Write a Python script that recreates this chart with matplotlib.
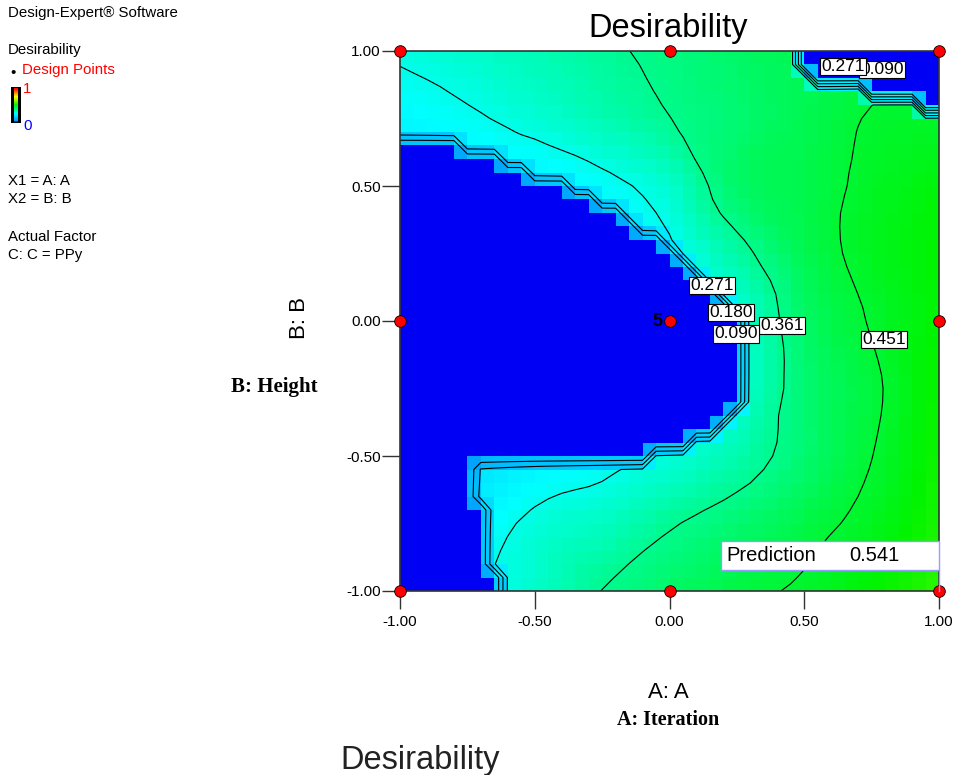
#!/usr/bin/env python3

import numpy as np
import matplotlib
matplotlib.use('Agg')
import matplotlib.pyplot as plt
import matplotlib.tri as mtri
from matplotlib.path import Path
from matplotlib.patches import Rectangle
from matplotlib.colors import LinearSegmentedColormap

# Coded factor levels of the coarse grid
grid_a = [-1.0, -0.75, -0.5, -0.25, 0.0, 0.25, 0.5, 0.75, 1.0]
grid_b = [-1.0, -0.75, -0.5, -0.25, 0.0, 0.25, 0.5, 0.75, 1.0]

# Desirability (outside the zero zones), rows = B from -1 to 1, cols = A
desir = [
    [0.10, 0.245, 0.30, 0.362, 0.40, 0.435, 0.46, 0.50, 0.541],
    [0.10, 0.22, 0.285, 0.31, 0.355, 0.39, 0.43, 0.47, 0.525],
    [0.13, 0.17, 0.22, 0.25, 0.285, 0.33, 0.39, 0.45, 0.515],
    [0.14, 0.16, 0.19, 0.22, 0.26, 0.29, 0.39, 0.44, 0.51],
    [0.15, 0.17, 0.19, 0.22, 0.255, 0.29, 0.40, 0.455, 0.50],
    [0.18, 0.19, 0.205, 0.23, 0.262, 0.34, 0.42, 0.47, 0.50],
    [0.20, 0.21, 0.225, 0.255, 0.30, 0.40, 0.425, 0.465, 0.49],
    [0.24, 0.262, 0.29, 0.325, 0.36, 0.39, 0.42, 0.455, 0.462],
    [0.28, 0.30, 0.325, 0.35, 0.375, 0.40, 0.42, 0.43, 0.44],
]

# Zones where desirability = 0 (blue), outline (A, B)
zero_main = [(-1.0, 0.65), (-0.80, 0.65), (-0.80, 0.60), (-0.65, 0.60), (-0.65, 0.55),
             (-0.55, 0.55), (-0.55, 0.50), (-0.40, 0.50), (-0.40, 0.45), (-0.30, 0.45),
             (-0.30, 0.40), (-0.20, 0.40), (-0.20, 0.35), (-0.15, 0.35), (-0.15, 0.30),
             (-0.05, 0.30), (-0.05, 0.25), (0.0, 0.25), (0.0, 0.20), (0.05, 0.20),
             (0.05, 0.15), (0.10, 0.15), (0.10, 0.10), (0.15, 0.10), (0.15, 0.05),
             (0.20, 0.05), (0.20, 0.0), (0.25, 0.0), (0.25, -0.30), (0.20, -0.30),
             (0.20, -0.35), (0.15, -0.35), (0.15, -0.40), (0.05, -0.40), (0.05, -0.45),
             (-0.10, -0.45), (-0.10, -0.50), (-0.75, -0.50), (-0.75, -0.70), (-0.70, -0.70),
             (-0.70, -0.95), (-0.65, -0.95), (-0.65, -1.0), (-1.0, -1.0)]
zero_corner = [(0.50, 1.0), (1.0, 1.0), (1.0, 0.80), (0.95, 0.80), (0.95, 0.85),
               (0.75, 0.85), (0.75, 0.90), (0.55, 0.90), (0.55, 0.95), (0.50, 0.95)]

levels = [0.090, 0.180, 0.271, 0.361, 0.451]

# Design points (coded), center point replicated 5 times
design_a = [-1, 0, 1, -1, 0, 1, -1, 0, 1]
design_b = [1, 1, 1, 0, 0, 0, -1, -1, -1]
center_reps = 5
prediction = 0.541

tick_vals = [-1.0, -0.5, 0.0, 0.5, 1.0]

plt.rcParams['font.family'] = ['Liberation Sans', 'DejaVu Sans']

W, H = 954, 775
fig = plt.figure(figsize=(W / 100, H / 100), dpi=100)


def fx(px):
    return px / W


def fy(py):
    return 1 - py / H


ax = fig.add_axes([fx(400), fy(591), 539 / W, 540 / H])

# Design-Expert style colour scale: blue -> cyan -> green -> yellow -> red
cmap = LinearSegmentedColormap.from_list('dx', [
    (0.0, '#0000f4'), (0.002, '#0090ff'), (0.25, '#00ffff'),
    (0.5, '#00f400'), (0.75, '#ffff00'), (1.0, '#ff0000')])

# Fine node grid (0.05 step), surface evaluated by matplotlib's tri interpolator
nodes = np.linspace(-1, 1, 41)
AA, BB = np.meshgrid(nodes, nodes)
A0, B0 = np.meshgrid(grid_a, grid_b)
tri = mtri.Triangulation(A0.ravel(), B0.ravel())
interp = mtri.CubicTriInterpolator(tri, np.array(desir).ravel(), kind='geom')
Z = np.asarray(interp(np.clip(AA, -0.99999, 0.99999),
                      np.clip(BB, -0.99999, 0.99999)).filled(0.0))

# cells in the zero zones, then their corner nodes get 0
centers = (nodes[:-1] + nodes[1:]) / 2
CA, CB = np.meshgrid(centers, centers)
pts = np.column_stack([CA.ravel(), CB.ravel()])
blue = np.zeros(CA.shape, bool)
for poly in (zero_main, zero_corner):
    blue |= Path(poly).contains_points(pts).reshape(CA.shape)
zero_node = np.zeros(AA.shape, bool)
zero_node[:-1, :-1] |= blue
zero_node[1:, :-1] |= blue
zero_node[:-1, 1:] |= blue
zero_node[1:, 1:] |= blue
Z[zero_node] = 0.0

C = (Z[:-1, :-1] + Z[1:, :-1] + Z[:-1, 1:] + Z[1:, 1:]) / 4
ax.pcolormesh(nodes, nodes, C, cmap=cmap, vmin=0, vmax=1, shading='flat')
ax.contour(AA, BB, Z, levels=levels, colors='black', linewidths=0.8)

# contour labels (placed like the original)
lab_pos = [(0.417, -0.015, 0.361), (0.247, -0.048, 0.090), (0.228, 0.033, 0.180),
           (0.158, 0.133, 0.271), (0.796, -0.067, 0.451),
           (0.788, 0.933, 0.090), (0.644, 0.944, 0.271)]
for i, (xa, yb, lv) in enumerate(lab_pos):
    ax.text(xa, yb, f'{lv:.3f}', fontsize=12.5, ha='center', va='center', zorder=6 + i * 0.1,
            bbox=dict(boxstyle='square,pad=0.06', fc='white', ec='black', lw=0.8))

# design points
ax.scatter(design_a, design_b, s=70, c='red', edgecolors='black', linewidths=0.6,
           zorder=8, clip_on=False)
ax.text(-0.025, 0.0, str(center_reps), fontsize=13, fontweight='bold', ha='right',
        va='center', zorder=8)

# prediction flag at (1, -1)
ax.add_patch(Rectangle((0.191, -0.922), 0.809, 0.107, fc='white', ec='#9999ff',
                       lw=1.0, zorder=9, clip_on=False))
ax.plot([1.0, 1.0], [-0.922, -1.0], color='#9999ff', lw=1.0, zorder=9, clip_on=False)
ax.text(0.21, -0.868, 'Prediction', fontsize=14.5, ha='left', va='center', zorder=10)
ax.text(0.759, -0.868, f'{prediction:.3f}', fontsize=14.5, ha='center', va='center', zorder=10)

ax.set_xlim(-1, 1)
ax.set_ylim(-1, 1)
ax.set_xticks(tick_vals)
ax.set_yticks(tick_vals)
ax.set_xticklabels([f'{v:.2f}' for v in tick_vals])
ax.set_yticklabels([f'{v:.2f}' for v in tick_vals])
ax.tick_params(axis='both', direction='out', length=13, width=1, labelsize=11, color='#333333')
ax.tick_params(axis='x', pad=4)
ax.tick_params(axis='y', pad=1)
for s in ax.spines.values():
    s.set_color('#333333')
    s.set_linewidth(1.2)

# titles and axis labels
fig.text(fx(668), fy(28), 'Desirability', fontsize=23.5, ha='center', va='center')
fig.text(fx(668), fy(693), 'A: A', fontsize=16, ha='center', va='center')
fig.text(fx(668), fy(720), 'A: Iteration', fontsize=14.5, fontweight='bold',
         family='Liberation Serif', ha='center', va='center')
fig.text(fx(300), fy(318), 'B: B', fontsize=16, rotation=90, ha='center', va='center')
fig.text(fx(274), fy(387), 'B: Height', fontsize=15, fontweight='bold',
         family='Liberation Serif', ha='center', va='center')
fig.text(fx(420), fy(760), 'Desirability', fontsize=23.5, ha='center', va='center',
         color='#222222')

# left info panel
fs = 10.8
fig.text(fx(8), fy(13), 'Design-Expert\u00ae Software', fontsize=fs, va='center')
fig.text(fx(8), fy(50), 'Desirability', fontsize=fs, va='center')
fig.text(fx(22), fy(70), 'Design Points', fontsize=fs, va='center', color='red')
fig.text(fx(13), fy(73), '\u2022', fontsize=fs, va='center', ha='center')
fig.text(fx(23), fy(89), '1', fontsize=fs, va='center', color='red')
fig.text(fx(23), fy(126), '0', fontsize=fs, va='center', color='blue')
fig.text(fx(8), fy(181), 'X1 = A: A', fontsize=fs, va='center')
fig.text(fx(8), fy(199), 'X2 = B: B', fontsize=fs, va='center')
fig.text(fx(8), fy(237), 'Actual Factor', fontsize=fs, va='center')
fig.text(fx(8), fy(255), 'C: C = PPy', fontsize=fs, va='center')

# small colour bar
cax = fig.add_axes([fx(11), fy(123), 10 / W, 36 / H])
cax.set_facecolor('black')
cax.imshow(np.linspace(1, 0, 50).reshape(-1, 1), cmap=cmap, aspect='auto',
           extent=[0.35, 0.65, 0.04, 0.96])
cax.set_xlim(0, 1)
cax.set_ylim(0, 1)
cax.set_xticks([])
cax.set_yticks([])
for s in cax.spines.values():
    s.set_visible(False)

fig.savefig('out.png', dpi=100)
